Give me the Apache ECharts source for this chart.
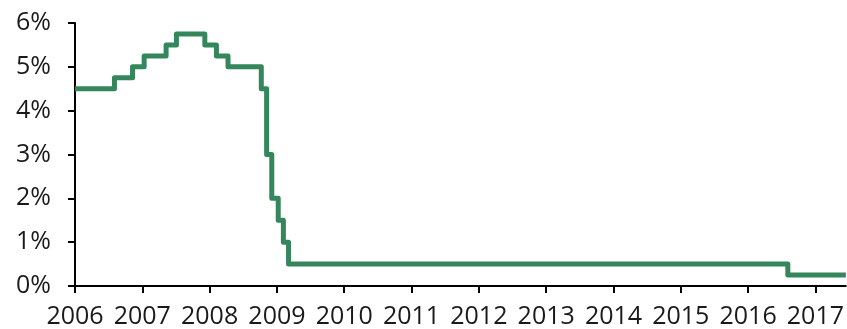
<!DOCTYPE html>
<html>
<head>
<meta charset="utf-8">
<script src="https://cdn.jsdelivr.net/npm/echarts@6/dist/echarts.min.js"></script>
<style>
  html, body { margin: 0; padding: 0; background: #fff; }
  #chart { width: 847px; height: 329px; }
</style>
</head>
<body>
<div id="chart"></div>
<script>
// Policy rate: date each new rate took effect, and the rate (%)
const changeDates = [
  '2006-01-01', '2006-08-03', '2006-11-09', '2007-01-11', '2007-05-10',
  '2007-07-05', '2007-12-06', '2008-02-07', '2008-04-10', '2008-10-08',
  '2008-11-06', '2008-12-04', '2009-01-08', '2009-02-05', '2009-03-05',
  '2016-08-04', '2017-06-15'
];
const rates = [
  4.5, 4.75, 5.0, 5.25, 5.5,
  5.75, 5.5, 5.25, 5.0, 4.5,
  3.0, 2.0, 1.5, 1.0, 0.5,
  0.25, 0.25
];
const yearTicks = [2006, 2007, 2008, 2009, 2010, 2011, 2012, 2013, 2014, 2015, 2016, 2017];
const rateTicks = [0, 1, 2, 3, 4, 5, 6];

// Convert a yyyy-mm-dd date to a fractional year
function toYear(s) {
  const p = s.split('-').map(Number);
  const start = Date.UTC(p[0], 0, 1);
  const end = Date.UTC(p[0] + 1, 0, 1);
  return p[0] + (Date.UTC(p[0], p[1] - 1, p[2]) - start) / (end - start);
}
const seriesData = changeDates.map((d, i) => [toYear(d), rates[i]]);

const labelFont = { fontFamily: 'Open Sans', fontSize: 25, color: '#1a1a1a' };

const chart = echarts.init(document.getElementById('chart'), null, { renderer: 'canvas' });
chart.setOption({
  animation: false,
  grid: { left: 75, right: 0, top: 23, bottom: 43, containLabel: false },
  xAxis: {
    type: 'value',
    min: yearTicks[0],
    max: toYear(changeDates[changeDates.length - 1]),
    axisLine: { lineStyle: { color: '#000', width: 2 } },
    axisTick: { show: true, length: 7, lineStyle: { color: '#000', width: 2 }, customValues: yearTicks },
    axisLabel: Object.assign({
      margin: 18,
      customValues: yearTicks,
      hideOverlap: false,
      formatter: v => String(Math.round(v))
    }, labelFont),
    splitLine: { show: false }
  },
  yAxis: {
    type: 'value',
    min: rateTicks[0],
    max: rateTicks[rateTicks.length - 1],
    interval: 1,
    axisLine: { show: true, lineStyle: { color: '#000', width: 2 } },
    axisTick: { show: true, length: 7, lineStyle: { color: '#000', width: 2 } },
    axisLabel: Object.assign({ margin: 24, formatter: '{value}%' }, labelFont),
    splitLine: { show: false }
  },
  series: [{
    type: 'line',
    step: 'end',
    data: seriesData,
    showSymbol: false,
    lineStyle: { color: '#35865D', width: 5, join: 'round', cap: 'butt' }
  }]
});
</script>
</body>
</html>
